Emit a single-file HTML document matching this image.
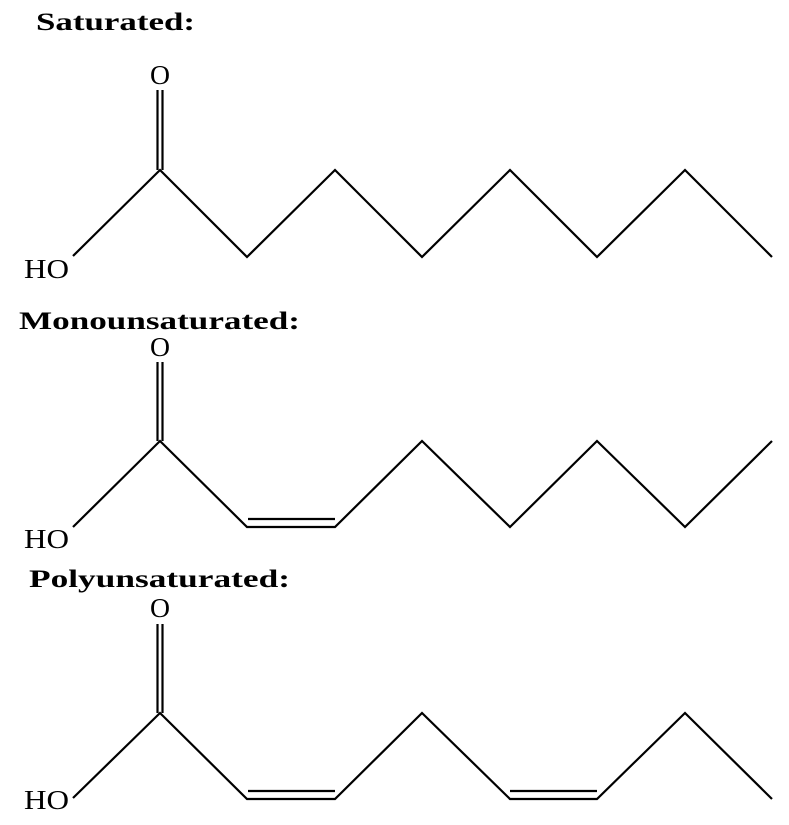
<!DOCTYPE html>
<html><head><style>body{margin:0;background:#fff}svg{display:block}</style></head><body>
<svg width="789" height="825" xmlns="http://www.w3.org/2000/svg" font-family="Liberation Serif, serif">
<g font-weight="bold" font-size="25">
<text x="36" y="30" textLength="159" lengthAdjust="spacingAndGlyphs">Saturated:</text>
<text x="19" y="329" textLength="281" lengthAdjust="spacingAndGlyphs">Monounsaturated:</text>
<text x="29" y="587" textLength="261" lengthAdjust="spacingAndGlyphs">Polyunsaturated:</text>
</g>
<g font-size="27">
<text x="160" y="84" text-anchor="middle" textLength="20" lengthAdjust="spacingAndGlyphs">O</text>
<text x="24" y="278" textLength="45" lengthAdjust="spacingAndGlyphs">HO</text>
<text x="160" y="356" text-anchor="middle" textLength="20" lengthAdjust="spacingAndGlyphs">O</text>
<text x="24" y="548" textLength="45" lengthAdjust="spacingAndGlyphs">HO</text>
<text x="160" y="617" text-anchor="middle" textLength="20" lengthAdjust="spacingAndGlyphs">O</text>
<text x="24" y="809" textLength="45" lengthAdjust="spacingAndGlyphs">HO</text>
</g>
<g stroke="#000" stroke-width="2.2" fill="none" stroke-linejoin="miter">
<polyline points="73,256 160,170 247,257 335,170 422,257 510,170 597,257 685,170 772,257"/>
<line x1="157.5" y1="90" x2="157.5" y2="170"/><line x1="162.5" y1="90" x2="162.5" y2="170"/>

<polyline points="73,527 160,441 247,527 335,527 422,441 510,527 597,441 685,527 772,441"/>
<line x1="157.5" y1="362" x2="157.5" y2="441"/><line x1="162.5" y1="362" x2="162.5" y2="441"/>
<line x1="248" y1="519" x2="335" y2="519"/>

<polyline points="73,798 160,713 247,799 335,799 422,713 510,799 597,799 685,713 772,799"/>
<line x1="157.5" y1="624" x2="157.5" y2="713"/><line x1="162.5" y1="624" x2="162.5" y2="713"/>
<line x1="248" y1="791" x2="335" y2="791"/>
<line x1="510" y1="791" x2="597" y2="791"/>
</g>
</svg>
</body></html>
